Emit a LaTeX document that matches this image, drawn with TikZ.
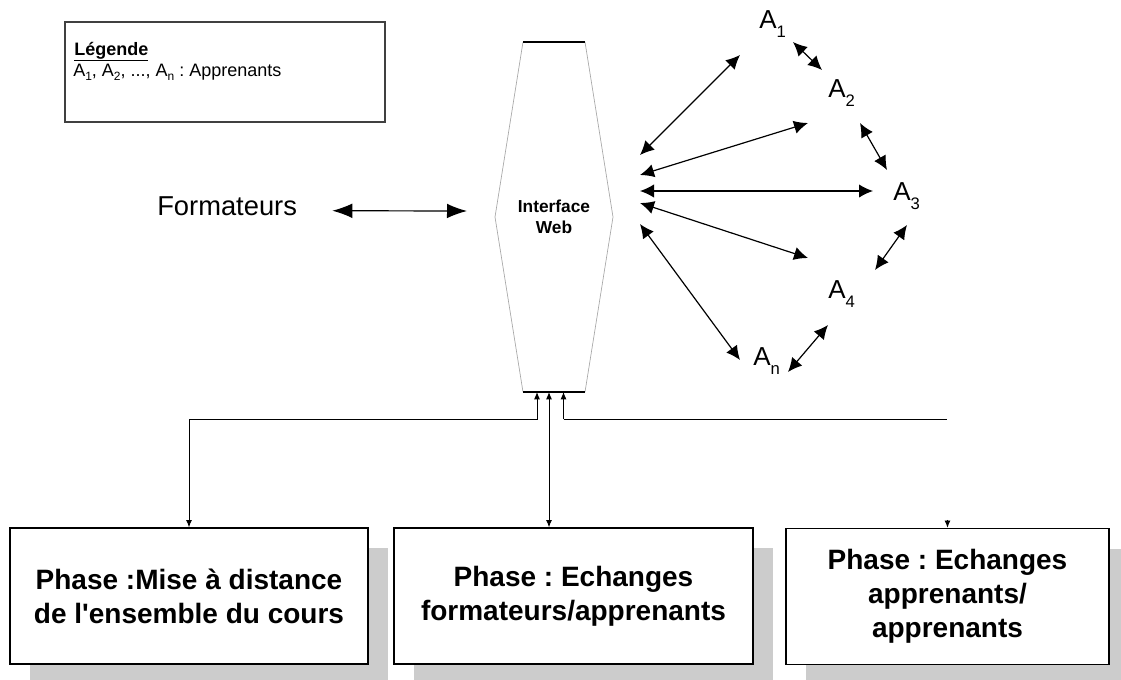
\documentclass[tikz,border=0pt]{standalone}
\usepackage{fontspec}
\setmainfont{Liberation Sans}
\usetikzlibrary{arrows.meta,calc,shadows}

% lowered subscript for learner labels
\newcommand\lsub[1]{\raisebox{-7pt}{\fontsize{12.5}{12.5}\selectfont #1}}
\newcommand\legsub[1]{\raisebox{-3.5pt}{\fontsize{9}{9}\selectfont #1}}
\frenchspacing

\begin{document}
\begin{tikzpicture}[x=0.75pt,y=-0.75pt,
  link/.style={line width=0.9pt,{Latex[length=10.5pt,width=10pt]}-{Latex[length=10.5pt,width=10pt]}},
  longlink/.style={line width=0.9pt,{Latex[length=15pt,width=11pt]}-{Latex[length=15pt,width=11pt]}},
  feedboth/.style={line width=0.7pt,{Latex[length=5.5pt,width=4.5pt]}-{Latex[length=5.5pt,width=4.5pt]}},
  feedup/.style={line width=0.7pt,-{Latex[length=5.5pt,width=4.5pt]}},
  learner/.style={anchor=base west,inner sep=0pt,font=\fontsize{19.5}{22}\selectfont},
  phasebox/.style={draw,line width=1pt,fill=white,align=center,
    minimum height=102pt,inner sep=2pt,
    font=\bfseries\fontsize{21}{25.5}\selectfont,
    drop shadow={shadow xshift=15pt,shadow yshift=-15pt,fill=black!20,opacity=1}},
  hexside/.style={draw=black!35,line width=0.5pt},
  hexcap/.style={draw=black,line width=1pt}
]
\useasboundingbox (0,0) rectangle (1121,679);

% legend
\node[draw=black!75,line width=1.1pt,minimum width=240pt,minimum height=75pt,outer sep=0pt] (legend) at (225,72) {};
\node[anchor=base west,inner sep=0pt,font=\bfseries\fontsize{13.5}{16}\selectfont] (legtitle) at (74,55) {\underline{Légende}};
\node[anchor=base west,inner sep=0pt,font=\fontsize{13.5}{16}\selectfont] (legtext) at (73,76)
  {A\legsub{1}, A\legsub{2}, ..., A\legsub{n} : Apprenants};

% web interface (hexagon)
\node[minimum width=88.5pt,minimum height=262.5pt,inner sep=0pt,outer sep=0pt,align=center,
      font=\bfseries\fontsize{13}{16}\selectfont] (web) at (554,217) {Interface\\Web};
\draw[hexside] ($(web.north)+(-31,0)$) -- (web.west) -- ($(web.south)+(-31,0)$);
\draw[hexside] ($(web.north)+(31,0)$) -- (web.east) -- ($(web.south)+(31,0)$);
\draw[hexcap] ($(web.north)+(-31,0)$) -- ($(web.north)+(31,0)$);
\draw[hexcap] ($(web.south)+(-31,0)$) -- ($(web.south)+(31,0)$);

% trainers
\node[anchor=base west,inner sep=0pt,font=\fontsize{20.5}{24}\selectfont] (form) at (157,215) {Formateurs};
\draw[longlink] ($(form.east)+(35,5)$) -- ($(web.west)+(-28,-6)$);

% learners
\node[learner] (a1) at (759,28) {A\lsub{1}};
\node[learner] (a2) at (828,97) {A\lsub{2}};
\node[learner] (a3) at (893,200) {A\lsub{3}};
\node[learner] (a4) at (828,298) {A\lsub{4}};
\node[learner] (an) at (753,365) {A\lsub{n}};

% interface <-> learners
\draw[link] ($(web.east)+(27,-62)$) -- ($(a1.base west)+(-19,27)$);
\draw[link] ($(web.east)+(27,-42)$) -- ($(a2.base west)+(-20,26)$);
\draw[link] ($(web.east)+(27,-26)$) -- ($(a3.base west)+(-20,-9)$);
\draw[link] ($(web.east)+(27,-14)$) -- ($(a4.base west)+(-20,-40)$);
\draw[link] ($(web.east)+(27,7)$) -- ($(an.base west)+(-13,-5)$);

% learner <-> learner
\draw[link] ($(a1.base west)+(34,14)$) -- ($(a2.base west)+(-6,-27)$);
\draw[link] ($(a2.base west)+(32,26)$) -- ($(a3.base west)+(-6,-30)$);
\draw[link] ($(a3.base west)+(14,25)$) -- ($(a4.base west)+(47,-28)$);
\draw[link] ($(a4.base west)+(0,27)$) -- ($(an.base west)+(35,7)$);

% phases
\node[phasebox,minimum width=268.5pt] (p1) at (189,596) {Phase :Mise à distance\\de l\textquotesingle ensemble du cours};
\node[phasebox,minimum width=269.25pt] (p2) at (573.5,596) {Phase : Echanges\\formateurs/apprenants};
\node[phasebox,minimum width=242.25pt] (p3) at (947.5,596.5) {Phase : Echanges\\apprenants/\\apprenants};

% phases -> interface
\draw[feedboth] (p1.north) |- ($(web.south)+(-17,27)$) -- ($(web.south)+(-17,0)$);
\draw[feedboth] ($(web.south)+(-5,0)$) coordinate (mid) -- (mid |- p2.north);
\draw[feedup] ($(web.south)+(9.5,27)$) coordinate (rt) -- ($(web.south)+(9.5,0)$);
\draw[line width=0.7pt] (rt) -- ($(rt -| p3.north)+(-1,0)$);
\draw[feedup] ($(p3.north)+(0,-8)$) -- (p3.north);
\end{tikzpicture}
\end{document}
